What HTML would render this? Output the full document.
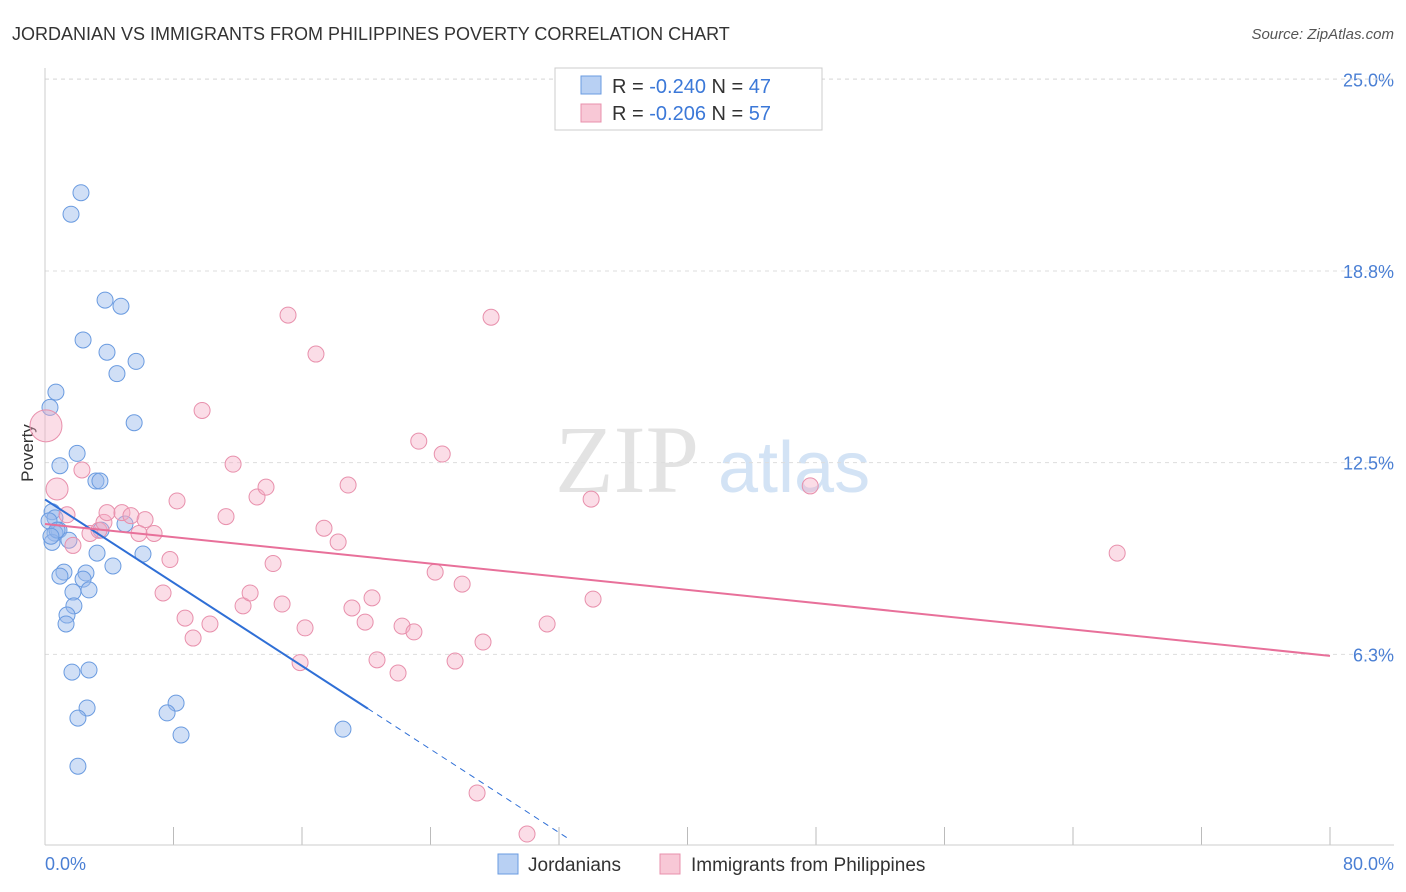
<!DOCTYPE html>
<html><head><meta charset="utf-8"><style>
body{margin:0;background:#fff;font-family:"Liberation Sans",sans-serif}
svg{display:block}
</style></head><body>
<svg width="1406" height="892">
<text x="12" y="40" font-size="18" fill="#333">JORDANIAN VS IMMIGRANTS FROM PHILIPPINES POVERTY CORRELATION CHART</text>
<text x="1394" y="39" font-size="15" fill="#555" text-anchor="end" font-style="italic">Source: ZipAtlas.com</text>
<text x="555" y="492" font-size="96" fill="#e3e3e3" font-family="Liberation Serif,serif">ZIP</text>
<text x="718" y="492" font-size="72" fill="#d3e3f5">atlas</text>
<g id="grid"></g>
<line x1="45" y1="68" x2="45" y2="845" stroke="#ccc"/>
<line x1="45" y1="845" x2="1394" y2="845" stroke="#ccc"/>
<text x="36" y="456" font-size="17" fill="#333" transform="rotate(-90 33 456)" text-anchor="middle">Poverty</text>
<text x="45" y="870" font-size="18" fill="#4a7fd4">0.0%</text>
<text x="1394" y="870" font-size="18" fill="#4a7fd4" text-anchor="end">80.0%</text>
<g id="pts"></g>
<g id="lines"></g>
<g>
<rect x="555" y="68" width="267" height="62" fill="#fff" stroke="#ccc"/>
<rect x="581" y="76" width="20" height="18" fill="#b8d0f3" stroke="#6a9be0"/>
<rect x="581" y="104" width="20" height="18" fill="#f8c8d6" stroke="#e890ac"/>
<text x="612" y="93" font-size="20" fill="#333">R = <tspan fill="#3b78d8">-0.240</tspan>   N = <tspan fill="#3b78d8">47</tspan></text>
<text x="612" y="120" font-size="20" fill="#333">R = <tspan fill="#3b78d8">-0.206</tspan>   N = <tspan fill="#3b78d8">57</tspan></text>
</g>
<g>
<rect x="498" y="854" width="20" height="20" fill="#b8d0f3" stroke="#6a9be0"/>
<text x="528" y="871" font-size="19" fill="#333">Jordanians</text>
<rect x="660" y="854" width="20" height="20" fill="#f8c8d6" stroke="#e890ac"/>
<text x="691" y="871" font-size="19" fill="#333">Immigrants from Philippines</text>
</g>
</svg>
<script>
const yTicks=[6.25,12.5,18.75,25];
const yTickLabels=["6.3%","12.5%","18.8%","25.0%"];
const xTicks=[0,8,16,24,32,40,48,56,64,72,80];
const jordX=[2.24,1.62,3.74,4.73,2.37,3.86,5.67,4.48,0.68,0.31,5.55,2.0,0.93,3.17,3.42,0.44,0.62,4.98,0.87,3.49,0.62,0.44,1.49,3.24,6.1,4.23,1.18,0.93,2.55,2.37,1.74,2.74,1.8,1.37,1.31,1.68,2.74,8.16,7.6,2.62,2.05,8.47,2.05,18.55,0.25,0.75,0.37];
const jordY=[21.3,20.6,17.8,17.6,16.5,16.1,15.8,15.4,14.8,14.3,13.8,12.8,12.4,11.9,11.9,10.9,10.7,10.5,10.3,10.3,10.2,9.9,9.97,9.55,9.52,9.13,8.93,8.8,8.9,8.7,8.28,8.35,7.83,7.53,7.24,5.67,5.74,4.66,4.34,4.5,4.17,3.62,2.6,3.81,10.6,10.3,10.1];
const phX=[0.06,0.75,2.3,1.37,1.74,2.8,3.36,3.67,3.86,4.79,5.35,6.23,6.79,5.85,8.22,7.78,7.35,8.72,9.22,10.27,9.78,11.27,11.71,12.33,12.77,13.2,13.76,14.2,14.76,15.13,15.88,16.19,16.87,17.37,18.25,18.87,19.11,19.93,20.36,20.67,21.98,22.23,22.97,23.27,24.29,24.73,25.53,25.97,26.9,27.27,27.77,30.01,31.26,34.0,34.12,47.64,66.75];
const phY=[13.7,11.64,12.26,10.8,9.8,10.19,10.29,10.55,10.87,10.87,10.77,10.64,10.19,10.19,11.25,9.34,8.25,7.43,6.78,7.24,14.2,10.74,12.45,7.83,8.25,11.38,11.7,9.21,7.89,17.31,5.98,7.11,16.04,10.36,9.91,11.77,7.76,7.3,8.09,6.07,5.64,7.17,6.98,13.2,8.93,12.78,6.03,8.54,1.73,6.65,17.24,0.39,7.24,11.31,8.05,11.74,9.55];
const jordFit=[[0,11.3],[20.1,4.48],[32.7,0.2]];
const phFit=[[0,10.5],[80,6.2]];
const NS="http://www.w3.org/2000/svg";
const sx=v=>45+v*1285/80, sy=v=>846-v*30.67;
function mk(t,a,p){const e=document.createElementNS(NS,t);for(const k in a)e.setAttribute(k,a[k]);p.appendChild(e);return e;}
const grid=document.getElementById('grid');
yTicks.forEach((v,i)=>{
 const l=mk('line',{x1:45,x2:1394,y1:sy(v),y2:sy(v),stroke:'#ddd','stroke-dasharray':'4,4'},grid);
 
 
 const t=mk('text',{x:1394,y:sy(v)+7,'font-size':18,fill:'#4a7fd4','text-anchor':'end'},grid);
 t.textContent=yTickLabels[i];
 
 
});
mk('line',{x1:45,x2:1394,y1:79,y2:79,stroke:'#ddd','stroke-dasharray':'4,4'},grid);
xTicks.forEach(v=>{
 const l=mk('line',{x1:sx(v),x2:sx(v),y1:827,y2:845,stroke:'#bbb'},grid);
 
 
});
const pts=document.getElementById('pts');
jordX.forEach((x,i)=>{
 const c=mk('circle',{cx:sx(x),cy:sy(jordY[i]),r:8,fill:'rgba(150,185,235,0.45)',stroke:'#6a9be0','stroke-width':1},pts);
 
 
});
phX.forEach((x,i)=>{
 const r=i<2?(i==0?16:11):8;
 const c=mk('circle',{cx:sx(x),cy:sy(phY[i]),r:r,fill:'rgba(245,170,195,0.4)',stroke:'#e890ac','stroke-width':1},pts);
 
 
});
const lines=document.getElementById('lines');
const b1=mk('line',{x1:sx(jordFit[0][0]),y1:sy(jordFit[0][1]),x2:sx(jordFit[1][0]),y2:sy(jordFit[1][1]),stroke:'#2f6fd6','stroke-width':2},lines);


const b2=mk('line',{x1:sx(jordFit[1][0]),y1:sy(jordFit[1][1]),x2:sx(jordFit[2][0]),y2:sy(jordFit[2][1]),stroke:'#2f6fd6','stroke-width':1,'stroke-dasharray':'6,5'},lines);


const p1=mk('line',{x1:sx(phFit[0][0]),y1:sy(phFit[0][1]),x2:sx(phFit[1][0]),y2:sy(phFit[1][1]),stroke:'#e8709a','stroke-width':2},lines);


</script>
</body></html>
